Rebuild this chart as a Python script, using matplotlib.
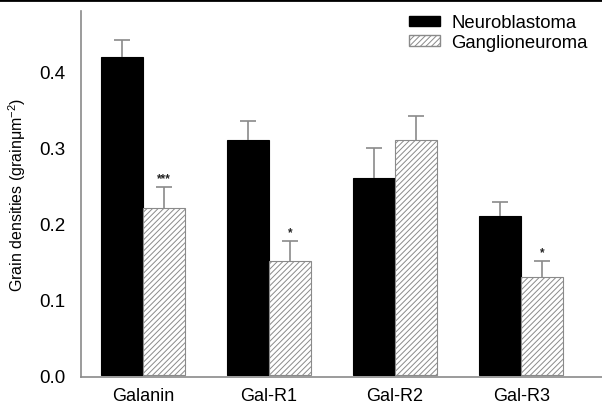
import matplotlib
matplotlib.use("Agg")
import matplotlib.pyplot as plt
from matplotlib.lines import Line2D
from matplotlib.patches import Patch
import numpy as np

plt.rcParams['font.family'] = ['Liberation Sans', 'DejaVu Sans']
plt.rcParams['mathtext.fontset'] = 'custom'
plt.rcParams['mathtext.rm'] = 'Liberation Sans'
plt.rcParams['hatch.color'] = '#666666'
plt.rcParams['hatch.linewidth'] = 0.7

# data
categories = ['Galanin', 'Gal-R1', 'Gal-R2', 'Gal-R3']
neuroblastoma = [0.42, 0.31, 0.26, 0.21]
neuroblastoma_err = [0.022, 0.025, 0.04, 0.018]
ganglioneuroma = [0.22, 0.15, 0.31, 0.13]
ganglioneuroma_err = [0.028, 0.027, 0.032, 0.02]
stars = ['***', '*', '', '*']

fig = plt.figure(figsize=(6.02, 4.06), dpi=100)
ax = fig.add_axes([81 / 602, 28 / 406, 1 - 81 / 602, 366 / 406])

x = np.arange(len(categories))
w = 1 / 3
grey = '#8a8a8a'

ax.bar(x - w / 2, neuroblastoma, w, color='black', edgecolor='black', linewidth=0.8)
ax.bar(x + w / 2, ganglioneuroma, w, color='white', edgecolor=grey, linewidth=0.8,
       hatch='//////')

# upper error bars only (stem + cap at top)
for xs, vals, errs in [(x - w / 2, neuroblastoma, neuroblastoma_err),
                       (x + w / 2, ganglioneuroma, ganglioneuroma_err)]:
    tops = np.array(vals) + np.array(errs)
    ax.vlines(xs, vals, tops, color=grey, linewidth=1.2, zorder=1)
    ax.plot(xs, tops, linestyle='none', marker='_', markersize=11,
            markeredgewidth=1.2, color=grey)

for i, s in enumerate(stars):
    if s:
        ax.annotate(s, (x[i] + w / 2, ganglioneuroma[i] + ganglioneuroma_err[i]),
                    xytext=(0, 2), textcoords='offset points', ha='center', va='bottom',
                    fontsize=8.5, fontweight='bold', color='#222222')

ax.set_xlim(-0.49, 3.64)
ax.set_ylim(-0.0026, 0.4805)
ax.set_yticks([0.0, 0.1, 0.2, 0.3, 0.4])
ax.set_xticks(x)
ax.set_xticklabels(categories)
ax.tick_params(axis='x', length=0, pad=7, labelsize=13)
ax.tick_params(axis='y', length=0, pad=11, labelsize=13.5)

for side in ['top', 'right']:
    ax.spines[side].set_visible(False)
for side in ['left', 'bottom']:
    ax.spines[side].set_color(grey)
    ax.spines[side].set_linewidth(1.2)

ax.set_ylabel(r'Grain densities (grain$\mathrm{\mu}$m$^{-2}$)', fontsize=11.5, labelpad=8)

handles = [Patch(facecolor='black', edgecolor='black'),
           Patch(facecolor='white', edgecolor=grey, hatch='//////')]
ax.legend(handles, ['Neuroblastoma', 'Ganglioneuroma'], loc='upper right',
          bbox_to_anchor=(595 / 602, 398 / 406), bbox_transform=fig.transFigure,
          frameon=False, fontsize=13.3, handlelength=1.7, handleheight=0.5,
          handletextpad=0.6, labelspacing=0.15, borderaxespad=0)

fig.add_artist(Line2D([0, 1], [0.997, 0.997], color='black', linewidth=2,
                      transform=fig.transFigure))

fig.savefig('out.png', dpi=100)
